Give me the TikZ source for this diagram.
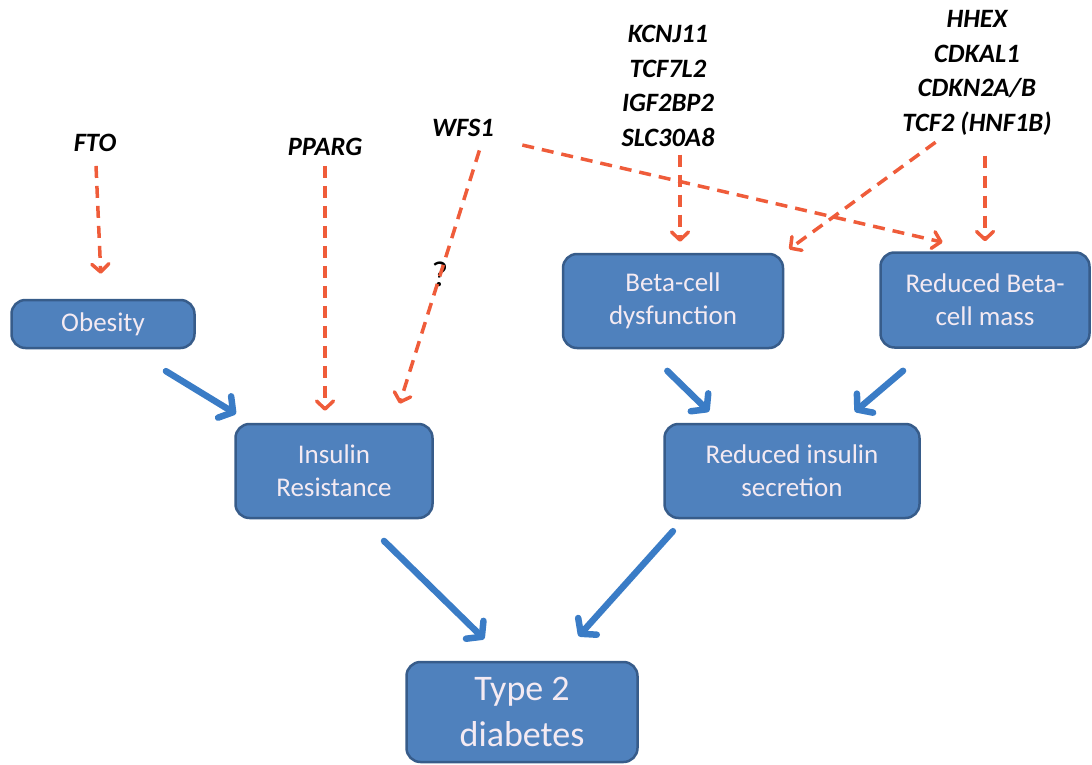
\documentclass[tikz,border=0pt]{standalone}
\usepackage{fontspec}
\setmainfont{Carlito}
\usetikzlibrary{arrows.meta,positioning}
\definecolor{boxblue}{RGB}{79,129,189}
\definecolor{boxline}{RGB}{55,92,138}
\definecolor{boxtext}{RGB}{244,234,242}
\definecolor{riskred}{RGB}{239,92,58}
\definecolor{flowblue}{RGB}{58,124,198}
\tikzset{
    %Define style for boxes
    stage/.style={
           rectangle,
           rounded corners=14pt,
           draw=boxline, line width=2.5pt,
           fill=boxblue,
           text=boxtext,
           align=center,
           inner sep=0pt,
           font=\fontsize{27}{33}\selectfont},
    gene/.style={
           align=center,
           inner sep=2pt,
           font=\fontsize{26.5}{34.5}\selectfont\bfseries\itshape},
    % Define arrow styles
    risk/.style={
           -{Straight Barb[round,length=8pt,width=17pt]},
           draw=riskred,
           line width=3.5pt,
           dash pattern=on 12pt off 8pt},
    flow/.style={
           -{Straight Barb[round,length=10pt,width=25pt]},
           draw=flowblue,
           line width=6.5pt,
           line cap=round}
}
\begin{document}
\begin{tikzpicture}[x=1pt,y=-1pt]
\useasboundingbox (0,0) rectangle (1092,765);
 %nodes
\node[stage, minimum width=183pt, minimum height=48pt](obes) at (103,324){Obesity};
\node[stage, minimum width=197pt, minimum height=94pt](ires) at (334,471){Insulin\\Resistance};
\node[stage, minimum width=220pt, minimum height=94pt](beta) at (673,301){Beta-cell\\dysfunction};
\node[stage, minimum width=209pt, minimum height=95pt](mass) at (985,300){Reduced Beta-\\cell mass};
\node[stage, minimum width=255pt, minimum height=94pt](ris) at (792,471){Reduced insulin\\secretion};
\node[stage, minimum width=231pt, minimum height=100pt,
      font=\fontsize{36}{46}\selectfont](t2d) at (522,712){Type 2\\diabetes};
\node[gene](fto) at (95,143){FTO};
\node[gene](pparg) at (325,147){PPARG};
\node[gene](wfs) at (463,128){WFS1};
\node[gene](kcnj) at (668,86){KCNJ11\\TCF7L2\\IGF2BP2\\SLC30A8};
\node[gene](hhex) at (977,73){HHEX\\CDKAL1\\CDKN2A/B\\TCF2 (HNF1B)};
\node[font=\fontsize{36}{36}\selectfont](q) at (440,274){?};
 %genes to traits
\path[every edge/.append style={risk}]
    (fto) edge[shorten <=12pt, shorten >=25pt] (obes)
    (pparg) edge[shorten <=8pt, shorten >=12pt] (pparg |- ires.north)
    ([xshift=20pt]wfs.south) edge[shorten <=12pt, shorten >=20pt] (ires.39.5)
    (wfs.south east) edge[shorten <=27pt] ([yshift=9pt]mass.131.5)
    ([xshift=12pt]kcnj.south) edge[shorten <=6pt, shorten >=11pt] ([xshift=12pt]kcnj.south |- beta.north)
    ([xshift=-35pt]hhex.south) edge[shorten <=8pt, shorten >=6pt] (beta.north east)
    (hhex.south -| mass.north) edge[shorten <=18pt, shorten >=10pt] (mass.north);
 %traits to disease
\path[every edge/.append style={flow}]
    (obes.-43) edge[shorten <=42pt, shorten >=17pt] (ires.150)
    (beta.-120) edge[shorten <=31pt, shorten >=16pt] (ris.146)
    (mass.221) edge[shorten <=34pt, shorten >=17pt] (ris.44)
    (ires.-60) edge[shorten <=31pt, shorten >=31pt] (t2d.107)
    (ris.204.5) edge[shorten <=16pt, shorten >=33pt] (t2d.56);
\end{tikzpicture}
\end{document}
